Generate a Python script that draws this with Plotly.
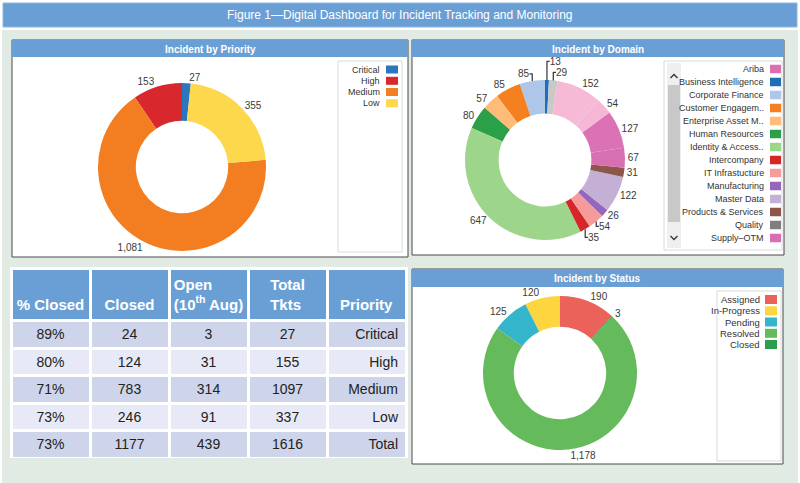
import plotly.graph_objects as go

# ---------------- data ----------------
priority_labels = ["Critical", "High", "Medium", "Low"]
priority_values = [27, 153, 1081, 355]
priority_colors = ["#2b76bd", "#d8282e", "#f37e22", "#fdd84c"]

# legend entries visible in the (scrolling) domain legend
domain_legend_names = ["Ariba", "Business Intelligence", "Corporate Finance", "Customer Engagem..",
                       "Enterprise Asset M..", "Human Resources", "Identity & Access..",
                       "Intercompany", "IT Infrastucture", "Manufacturing", "Master Data",
                       "Products & Services", "Quality", "Supply\u2013OTM"]
domain_legend_colors = ["#d970b2", "#1f6fb6", "#aec7e8", "#f5801f", "#ffbb78", "#2ca048", "#9dd58b",
                        "#d62728", "#f79a9a", "#9467bd", "#c5b0d5", "#8c564b", "#7f7f7f", "#d96fb3"]

# slices with a readable label, counter-clockwise from 12 o'clock
domain_labels = ["Business Intelligence", "Corporate Finance", "Customer Engagement",
                 "Enterprise Asset Management", "Human Resources", "Identity & Access Management",
                 "Intercompany", "IT Infrastucture", "Manufacturing", "Master Data",
                 "Products & Services", "Supply-OTM", "Tax", "Treasury", "Travel & Expense", "Other"]
domain_values = [13, 85, 85, 57, 80, 647, 35, 54, 26, 122, 31, 67, 127, 54, 152, 29]
domain_colors = ["#1f6fb6", "#aec7e8", "#f5801f", "#ffbb78", "#2ca048", "#9dd58b",
                 "#d62728", "#f79a9a", "#9467bd", "#c5b0d5", "#8c564b", "#d96fb3",
                 "#da72b5", "#f5b7d5", "#f6bad7", "#c9c9c9"]

status_labels = ["Assigned", "In-Progress", "Pending", "Resolved", "Closed"]
status_values = [190, 120, 125, 1178, 3]
status_colors = ["#eb625a", "#fdd53f", "#35b5cb", "#65bb5b", "#2e9e4c"]

table_headers = ["&nbsp;<br><b>% Closed</b>", "&nbsp;<br><b>Closed</b>",
                 "<b>Open</b><br><b>(10<sup>th</sup> Aug)</b>",
                 "<b>Total</b><br><b>Tkts</b>", "&nbsp;<br><b>Priority</b>"]
tbl_priority = ["Critical", "High", "Medium", "Low", "Total"]
tbl_total = [27, 155, 1097, 337, 1616]
tbl_open = [3, 31, 314, 91, 439]
tbl_closed = [24, 124, 783, 246, 1177]
tbl_pct = ["89%", "80%", "71%", "73%", "73%"]

# ---------------- helpers ----------------
W, H = 800, 483
FONT = "Liberation Sans, Arial, sans-serif"
BLUE = "#6a9fd6"


def X(x):
    return x / W


def Y(y):
    return 1 - y / H


shapes = []
annotations = []


def rect(x0, y0, x1, y1, fill, line=None, lw=0, layer="below"):
    shapes.append(dict(type="rect", xref="paper", yref="paper",
                       x0=X(x0), x1=X(x1), y0=Y(y1), y1=Y(y0),
                       fillcolor=fill, line=dict(color=line or fill, width=lw), layer=layer))


def text(x, y, s, size=10, color="#333", anchor="center", bold=False, family=FONT):
    annotations.append(dict(xref="paper", yref="paper", x=X(x), y=Y(y), text=("<b>%s</b>" % s) if bold else s,
                            showarrow=False, xanchor=anchor, yanchor="middle",
                            font=dict(size=size, color=color, family=family)))


def pie_domain(cx, cy, r):
    return dict(x=[X(cx - r), X(cx + r)], y=[Y(cy + r), Y(cy - r)])


# ---------------- background ----------------
rect(3, 3, 797, 27, BLUE, "#8fb7e0", 1)
text(400, 15, "Figure 1\u2014Digital Dashboard for Incident Tracking and Monitoring", size=12, color="white")
rect(2, 30, 798, 483, "#e1ebe3")

# panels
panels = [(12, 40, 408, 257, 57, "Incident by Priority"),
          (412, 40, 784, 255, 57, "Incident by Domain"),
          (412, 269, 783, 464, 287, "Incident by Status")]
for x0, y0, x1, y1, hb, title in panels:
    rect(x0, y0, x1, y1, "white", "#4a4a4a", 1)
    rect(x0, y0, x1, hb, BLUE, BLUE, 0)
    text((x0 + x1) / 2, (y0 + hb) / 2 + 0.5, title, size=10, color="white", bold=True)

# ---------------- legends (drawn) ----------------
def legend(box, names, colors, ys, sw_x0, sw_x1, sw_h, txt_right, size):
    bx0, by0, bx1, by1 = box
    rect(bx0, by0, bx1, by1, "white", "#d9d9d9", 1)
    for n, c, yy in zip(names, colors, ys):
        rect(sw_x0, yy - sw_h / 2, sw_x1, yy + sw_h / 2, c, c, 0, layer="above")
        text(txt_right, yy, n, size=size, color="#333", anchor="right")


legend((338, 61, 402, 252), priority_labels, priority_colors,
       [69.5, 80.8, 92, 103.2], 386, 398, 8, 382, 9)

legend((664, 61, 782, 250), domain_legend_names, domain_legend_colors,
       [69 + 13 * i for i in range(14)], 770, 781, 8.5, 766, 9)
# scrollbar
rect(667, 63, 681, 248, "#efefef", "#efefef", 0)
rect(668, 85, 680, 222, "#c8c8c8", "#c8c8c8", 0, layer="above")
shapes.append(dict(type="path", xref="paper", yref="paper", layer="above",
                   path="M %f %f L %f %f L %f %f" % (X(670.5), Y(78), X(674), Y(74.5), X(677.5), Y(78)),
                   line=dict(color="#333", width=1.3)))
shapes.append(dict(type="path", xref="paper", yref="paper", layer="above",
                   path="M %f %f L %f %f L %f %f" % (X(670.5), Y(236), X(674), Y(239.5), X(677.5), Y(236)),
                   line=dict(color="#333", width=1.3)))

legend((717, 291, 781, 461), status_labels, status_colors,
       [299.5, 310.8, 322, 333.3, 344.5], 765, 777, 9, 762, 9.5)

# ---------------- pies ----------------
fig = go.Figure()

common = dict(sort=False, direction="counterclockwise", rotation=0, textposition="outside",
              showlegend=False, textfont=dict(size=10, color="#3a3a3a", family=FONT),
              hoverinfo="label+value+percent", texttemplate="%{value:,}")

fig.add_trace(go.Pie(labels=priority_labels, values=priority_values, hole=0.55,
                     marker=dict(colors=priority_colors, line=dict(width=0)),
                     domain=pie_domain(182, 167, 84), **common))

fig.add_trace(go.Pie(labels=domain_labels, values=domain_values, hole=0.58,
                     marker=dict(colors=domain_colors, line=dict(width=0)),
                     domain=pie_domain(545, 160, 80), **common))

fig.add_trace(go.Pie(labels=status_labels, values=status_values, hole=0.6,
                     marker=dict(colors=status_colors, line=dict(width=0)),
                     domain=pie_domain(560, 373, 77), **common))

# ---------------- table ----------------
row_dark, row_light = "#ced5ea", "#e7eaf6"
row_fill = [row_dark, row_light, row_dark, row_light, row_dark]
fig.add_trace(go.Table(
    domain=dict(x=[X(11), X(406)], y=[Y(458), Y(268)]),
    columnwidth=[1, 1, 1, 1, 1],
    header=dict(values=table_headers, fill_color=BLUE, align="center", height=45,
                font=dict(color="white", size=15, family=FONT), line=dict(color="white", width=3)),
    cells=dict(values=[tbl_pct, tbl_closed, tbl_open, tbl_total, tbl_priority],
               fill_color=[row_fill] * 5, align=["center", "center", "center", "center", "right"],
               height=27.5, font=dict(color="#222", size=14, family=FONT),
               line=dict(color="white", width=3))
))

fig.update_layout(width=W, height=H, margin=dict(l=0, r=0, t=0, b=0),
                  paper_bgcolor="white", plot_bgcolor="white",
                  shapes=shapes, annotations=annotations, font=dict(family=FONT))

fig.write_html("out.html")
